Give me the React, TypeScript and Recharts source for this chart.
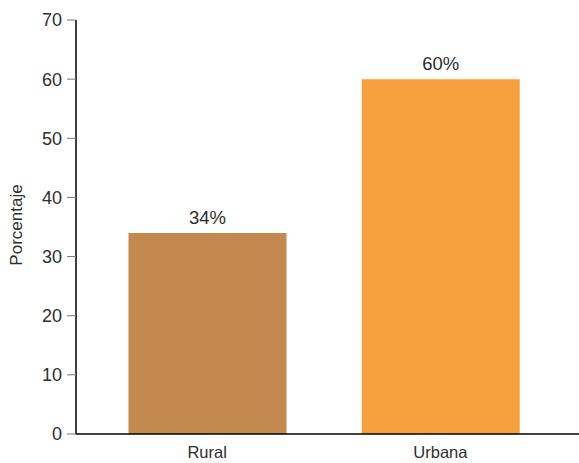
import { BarChart, Bar, XAxis, YAxis, LabelList, Label, Cell } from "recharts";

// share by area of residence
const categories = ["Rural", "Urbana"];
const percentages = [34, 60];
const barColors = ["#C4894F", "#F5A03D"];
const yTicks = [0, 10, 20, 30, 40, 50, 60, 70];

const data = categories.map((name, i) => ({ name, value: percentages[i] }));

const FONT = "'Liberation Sans', Arial, Helvetica, sans-serif";
const TEXT = "#2e2e2e";

const YTitle = () => (
  <text
    x={16}
    y={225}
    transform="rotate(-90, 16, 225)"
    textAnchor="middle"
    dominantBaseline="central"
    fontFamily={FONT}
    fontSize={17}
    fill={TEXT}
  >
    Porcentaje
  </text>
);

const App = () => {
  return (
    <div style={{ position: "absolute", left: 0, top: 0, background: "#fff" }}>
      <BarChart
        width={579}
        height={463}
        data={data}
        margin={{ top: 20, right: 0, left: 0, bottom: 0 }}
        barSize={158}
      >
        <XAxis
          dataKey="name"
          height={29}
          padding={{ left: 14.5, right: 22 }}
          axisLine={{ stroke: "#000", strokeWidth: 1.5 }}
          tickLine={false}
          tickSize={6}
          tickMargin={6}
          tick={{ fontFamily: FONT, fontSize: 16.5, fill: TEXT }}
        />
        <YAxis
          width={76}
          domain={[0, 70]}
          ticks={yTicks}
          interval={0}
          axisLine={{ stroke: "#000", strokeWidth: 1.5 }}
          tickLine={{ stroke: "#777" }}
          tickSize={9}
          tickMargin={5}
          tick={{ fontFamily: FONT, fontSize: 18, fill: TEXT }}
        >
          <Label content={YTitle} />
        </YAxis>
        <Bar dataKey="value" isAnimationActive={false}>
          {data.map((d, i) => (
            <Cell key={d.name} fill={barColors[i]} />
          ))}
          <LabelList
            dataKey="value"
            position="top"
            offset={9}
            formatter={(v: number) => `${v}%`}
            style={{ fontFamily: FONT, fontSize: 18.5, fill: TEXT }}
          />
        </Bar>
      </BarChart>
    </div>
  );
};

export default App;
